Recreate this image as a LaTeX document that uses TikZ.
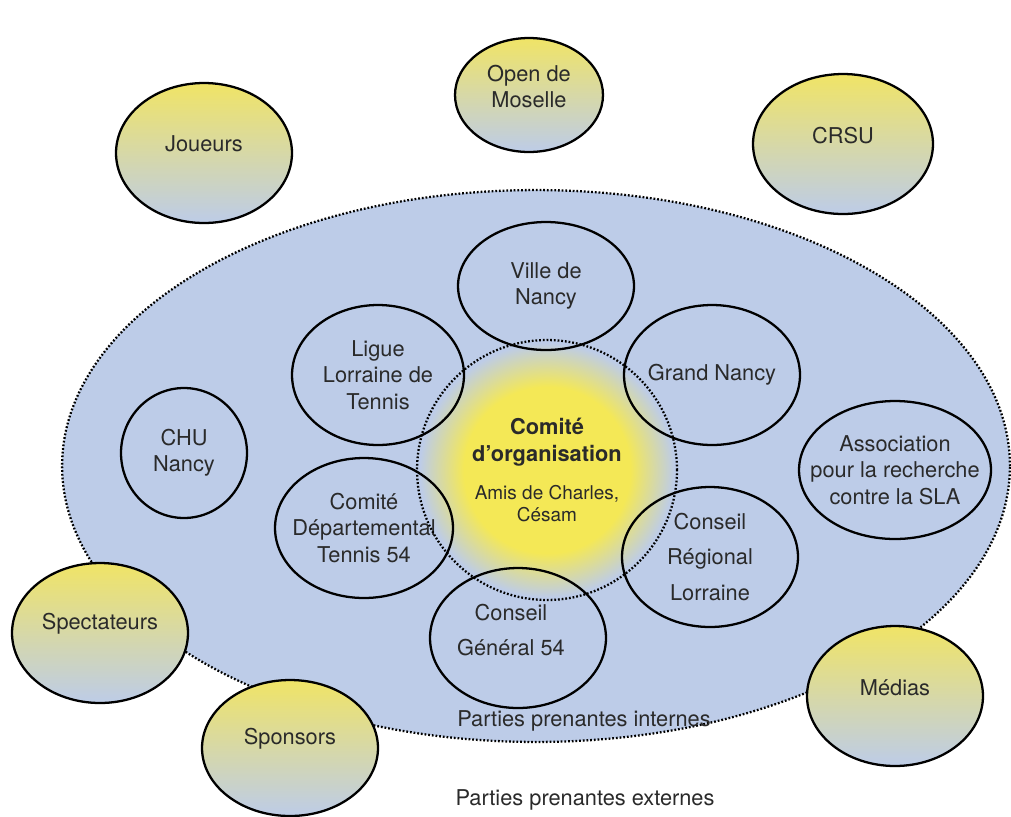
\documentclass[tikz,border=0pt]{standalone}
\usepackage{xcolor}
\definecolor{intblue}{HTML}{BDCCE8}
\definecolor{extyellow}{HTML}{F0E466}
\definecolor{sunyellow}{HTML}{F4E856}
\definecolor{txtgrey}{HTML}{2A2A2A}
\usepackage{fontspec}
\setmainfont{TeX Gyre Heros}
\usepackage{tikz}
\usetikzlibrary{shapes.geometric}
\pgfdeclareradialshading{sunfade}{\pgfpoint{0bp}{0bp}}{color(0bp)=(sunyellow); color(16bp)=(sunyellow); color(24.5bp)=(intblue); color(50bp)=(intblue)}
\newcommand{\amisfont}{\fontsize{10.8}{12.5}\selectfont}

\begin{document}
\begin{tikzpicture}[x=0.02cm, y=-0.02cm,
        font=\fontsize{12.4}{15}\selectfont, text=txtgrey,
        every node/.style={ellipse, align=center, inner sep=-0.6cm},
        ext/.style={draw=black, line width=1.3pt, top color=extyellow, bottom color=intblue,
            minimum width=3.52cm, minimum height=2.8cm, label={[extlabel]center:#1}},
        extlabel/.style={align=center, yshift=5pt},
        int/.style={draw=black, line width=1.3pt, minimum width=3.52cm, minimum height=2.8cm},
        dots/.style={draw=black, line width=1.3pt, dash pattern=on 1pt off 1.1pt},
        zonetext/.style={rectangle, inner sep=1pt}]

    \useasboundingbox (0, 0) rectangle (1011, 816);

    % zone interne
    \node (zone) at (536, 466) [dots, fill=intblue, minimum width=18.96cm, minimum height=11.04cm] {};
    \node (sun) at (547, 470) [circle, shading=sunfade, minimum size=5.2cm] {};

    % parties prenantes externes
    \node (open) at (529, 95) [ext={Open de\\Moselle}, minimum width=2.96cm, minimum height=2.28cm] {};
    \node (joueurs) at (204, 153) [ext=Joueurs] {};
    \node (crsu) at (843, 144) [ext=CRSU, minimum width=3.6cm] {};
    \node (spect) at (100, 633) [ext=Spectateurs] {};
    \node (sponsors) at (290, 748) [ext=Sponsors, minimum height=2.72cm] {};
    \node (medias) at (895, 696) [ext=Médias] {};

    % parties prenantes internes
    \node (ville) at (546, 286) [int, minimum height=2.56cm] {Ville de\\Nancy};
    \node (ligue) at (378, 375) [int, minimum width=3.44cm] {Ligue\\Lorraine de\\Tennis};
    \node (grand) at (712, 375) [int] {Grand Nancy};
    \node (chu) at (184, 453) [int, minimum width=2.52cm, minimum height=2.6cm] {CHU\\Nancy};
    \node (assoc) at (895, 470) [int, minimum width=3.84cm, minimum height=2.76cm] {Association\\pour la recherche\\contre la SLA};
    \node (cdep) at (364, 528) [int, minimum width=3.56cm] {Comité\\Départemental\\Tennis 54};
    \node (creg) at (710, 557) [int] {Conseil\\[5pt]Régional\\[5pt]Lorraine};
    \node (cgen) at (518, 638) [int, label={[extlabel, yshift=-0.5pt, xshift=-4pt]center:Conseil\\[5pt]Général 54}] {};

    \node (comite) at (547, 470) [circle, dots, minimum size=5.2cm]
        {\textbf{Comité}\\\textbf{d’organisation}\\[6.5pt]{\amisfont Amis de Charles,}\\[-2.5pt]{\amisfont Césam}};

    \node (internes) at (584, 721) [zonetext] {Parties prenantes internes};
    \node (externes) at (585, 800) [zonetext] {Parties prenantes externes};
\end{tikzpicture}
\end{document}
